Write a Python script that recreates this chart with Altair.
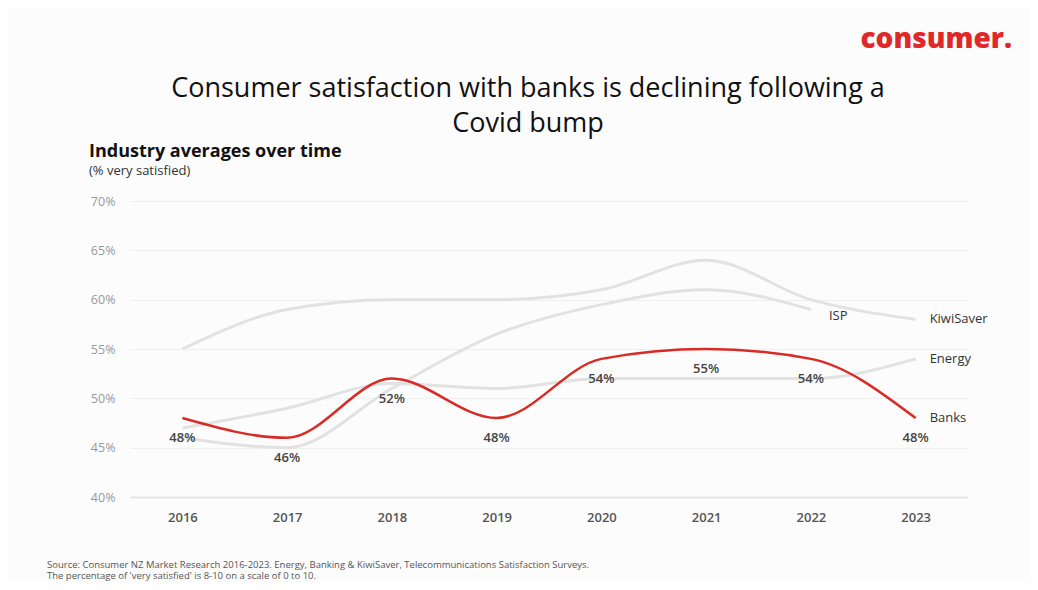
import altair as alt
import pandas as pd

years = ["2016", "2017", "2018", "2019", "2020", "2021", "2022", "2023"]
banks = [48, 46, 52, 48, 54, 55, 54, 48]
energy = [47, 49, 51.5, 51, 52, 52, 52, 54]
kiwisaver = [55, 59, 60, 60, 61, 64, 60, 58]
isp = [46, 45, 51, 56.5, 59.5, 61, 59, None]
y_ticks = [40, 45, 50, 55, 60, 65, 70]

FONT = "Open Sans"

rows = []
for name, vals in [("KiwiSaver", kiwisaver), ("ISP", isp), ("Energy", energy), ("Banks", banks)]:
    for yr, v in zip(years, vals):
        if v is not None:
            rows.append({"series": name, "year": yr, "value": v})
df = pd.DataFrame(rows)
grey_df = df[df.series != "Banks"]
bank_df = df[df.series == "Banks"].copy()
bank_df["label"] = [f"{v:g}%" for v in bank_df.value]

ends = df.groupby("series").tail(1).copy()
ends["dx"] = ends.series.map({"ISP": 18}).fillna(14)
ends["dyv"] = ends.series.map({"ISP": 6}).fillna(0)

xenc = alt.X("year:O", scale=alt.Scale(type="point", padding=0.5, domain=years),
             axis=alt.Axis(title=None, labelAngle=0, ticks=False, domain=True,
                           domainColor="#e6e6e6", domainWidth=2, labelPadding=14,
                           labelColor="#555555", labelFontSize=13, labelFont=FONT,
                           labelFontWeight=600))
yenc = alt.Y("value:Q", scale=alt.Scale(domain=[40, 70]),
             axis=alt.Axis(title=None, values=y_ticks, labelExpr="datum.value + '%'",
                           grid=True, gridColor="#efefef", gridWidth=1, domain=False,
                           ticks=False, labelPadding=15, labelColor="#999999",
                           labelFontSize=12.5, labelFont=FONT))

grey = alt.Chart(grey_df).mark_line(interpolate="monotone", color="#e2e2e2", strokeWidth=3).encode(
    x=xenc, y=yenc, detail="series:N")
red = alt.Chart(bank_df).mark_line(interpolate="monotone", color="#d92b25", strokeWidth=2.5).encode(
    x="year:O", y="value:Q")
blabels = alt.Chart(bank_df).mark_text(dy=20, fontSize=13, fontWeight=600, color="#444444", font=FONT).encode(
    x="year:O", y="value:Q", text="label:N")

end_layers = []
for _, r in ends.iterrows():
    end_layers.append(
        alt.Chart(pd.DataFrame([r.to_dict()])).mark_text(
            align="left", dx=float(r.dx), dy=float(r.dyv), fontSize=13, color="#333333", font=FONT
        ).encode(x="year:O", y="value:Q", text="series:N")
    )

def ann(text, x, y, **kw):
    return alt.Chart(pd.DataFrame({"t": [text]})).mark_text(font=FONT, **kw).encode(
        text="t:N", x=alt.value(x), y=alt.value(y))

title1 = ann("Consumer satisfaction with banks is declining following a", 398, -112,
             fontSize=27, color="#111111", align="center", baseline="middle")
title2 = ann("Covid bump", 398, -77, fontSize=27, color="#111111", align="center", baseline="middle")
sub1 = ann("Industry averages over time", -41, -49, fontSize=18, fontWeight="bold",
           color="#111111", align="left", baseline="middle")
sub2 = ann("(% very satisfied)", -41, -30, fontSize=13, color="#333333", align="left", baseline="middle")
foot1 = ann("Source: Consumer NZ Market Research 2016-2023. Energy, Banking & KiwiSaver, Telecommunications Satisfaction Surveys.",
            -83, 364, fontSize=9.5, color="#555555", align="left", baseline="middle")
foot2 = ann("The percentage of 'very satisfied'  is 8-10 on a scale of 0 to 10.",
            -83, 375, fontSize=9.5, color="#555555", align="left", baseline="middle")
logo = ann("consumer.", 882, -161, fontSize=28, fontWeight=900, color="#e0282b",
           align="right", baseline="middle")

chart = alt.layer(grey, red, blabels, *end_layers, title1, title2, sub1, sub2, foot1, foot2, logo).properties(
    width=838, height=296,
    autosize=alt.AutoSizeParams(type="none"),
    padding={"left": 122, "top": 193, "right": 62, "bottom": 85},
    background="#fcfcfc",
).configure_view(stroke=None)

chart.save("out.html", embed_options={"renderer": "svg", "actions": False})
